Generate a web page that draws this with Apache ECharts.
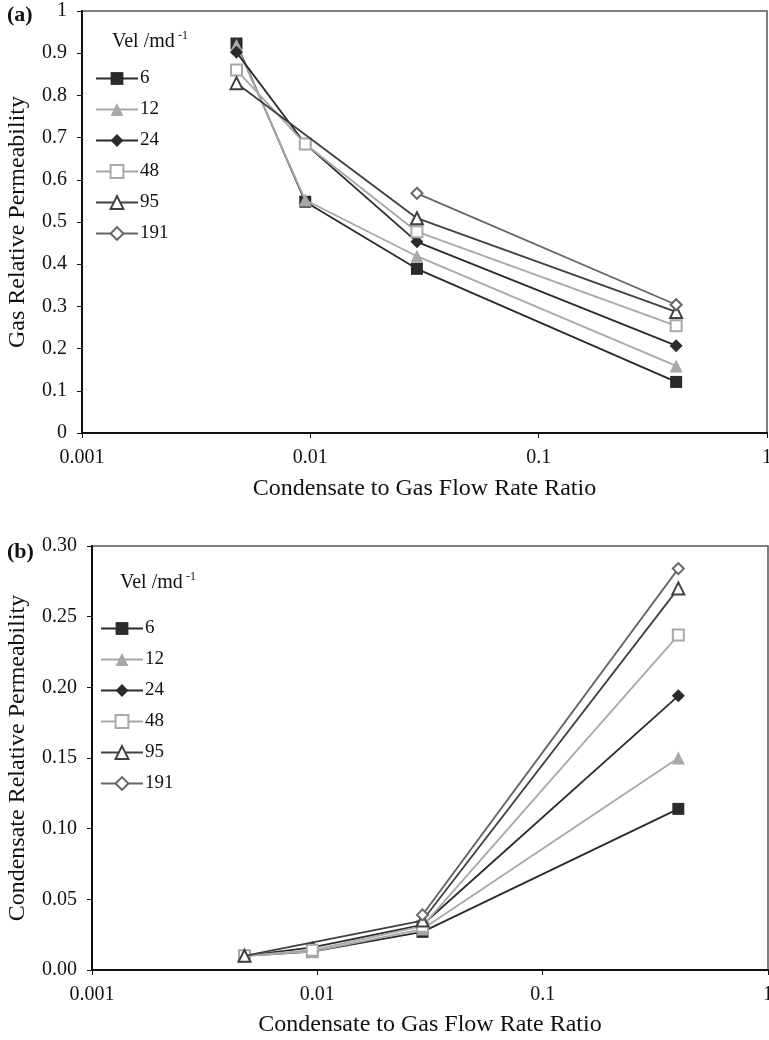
<!DOCTYPE html>
<html>
<head>
<meta charset="utf-8">
<script src="https://cdn.jsdelivr.net/npm/echarts@6/dist/echarts.min.js"></script>
<style>html,body{margin:0;padding:0;background:#fff;}#c{width:769px;height:1040px;}</style>
</head>
<body>
<div id="c"></div>
<script>
// ---- data ----
const velocities = ['6', '12', '24', '48', '95', '191'];
const flowRatio = [0.00475, 0.0095, 0.0293, 0.40];
const gas6   = [0.923, 0.548, 0.389, 0.121];
const gas12  = [0.919, 0.552, 0.419, 0.159];
const gas24  = [0.902, 0.685, 0.453, 0.207];
const gas48  = [0.860, 0.685, 0.477, 0.254];
const gas95  = [0.829, null, 0.509, 0.287];
const gas191 = [null, null, 0.568, 0.304];
const cond6   = [0.010, 0.013, 0.027, 0.114];
const cond12  = [0.010, 0.013, 0.029, 0.150];
const cond24  = [0.010, 0.016, 0.032, 0.194];
const cond48  = [0.010, 0.014, 0.031, 0.237];
const cond95  = [0.010, null, 0.035, 0.270];
const cond191 = [null, null, 0.039, 0.284];
const xTickLabels = {0.001: '0.001', 0.01: '0.01', 0.1: '0.1', 1: '1'};

const gasSets = [gas6, gas12, gas24, gas48, gas95, gas191];
const condSets = [cond6, cond12, cond24, cond48, cond95, cond191];

// ---- styles ----
const styles = [
  {symbol: 'rect', size: 12, color: '#2b2b2b', line: '#2b2b2b'},
  {symbol: 'triangle', size: 13, color: '#a8a8a8', line: '#a8a8a8'},
  {symbol: 'diamond', size: 13, color: '#2b2b2b', line: '#2b2b2b'},
  {symbol: 'emptyRect', size: 11, color: '#a8a8a8', line: '#a8a8a8'},
  {symbol: 'emptyTriangle', size: 12, color: '#404040', line: '#404040'},
  {symbol: 'emptyDiamond', size: 11, color: '#666666', line: '#666666'}
];
const serif = '"Liberation Serif", "DejaVu Serif", serif';

function pairs(ys) {
  const out = [];
  ys.forEach((y, i) => { if (y !== null) out.push([flowRatio[i], y]); });
  return out;
}
function makeSeries(sets, idx) {
  return sets.map((ys, i) => ({
    name: velocities[i],
    type: 'line',
    xAxisIndex: idx, yAxisIndex: idx,
    data: pairs(ys),
    symbol: styles[i].symbol,
    symbolSize: styles[i].size,
    showAllSymbol: true,
    itemStyle: {color: styles[i].color, borderWidth: 1.6},
    lineStyle: {color: styles[i].line, width: 1.8},
    animation: false,
    z: 2 + i
  }));
}

const axisLineStyle = {lineStyle: {color: '#111', width: 2}};
function xAxis(gi, gap) {
  return {
    type: 'log', logBase: 10, min: 0.001, max: 1, gridIndex: gi,
    name: 'Condensate to Gas Flow Rate Ratio', nameLocation: 'middle', nameGap: gap,
    nameTextStyle: {fontFamily: serif, fontSize: 24, color: '#111'},
    axisLine: axisLineStyle,
    axisTick: {show: true, inside: false, length: 5, lineStyle: {color: '#111', width: 1}},
    minorTick: {show: false},
    splitLine: {show: false},
    axisLabel: {fontFamily: serif, fontSize: 20, color: '#111', margin: 15,
      formatter: v => xTickLabels[+v.toPrecision(3)] !== undefined ? xTickLabels[+v.toPrecision(3)] : ''}
  };
}
function legend(left, top) {
  return {data: velocities, orient: 'vertical', left: left, top: top, padding: 0,
    itemWidth: 42, itemHeight: 16, itemGap: 12,
    textStyle: {fontFamily: serif, fontSize: 19, color: '#111', padding: [0, 0, 0, -3]}, selectedMode: false};
}

const chart = echarts.init(document.getElementById('c'), null, {renderer: 'canvas'});
chart.setOption({
  animation: false,
  backgroundColor: '#fff',
  grid: [
    {left: 82, top: 11, width: 685, height: 422, show: true, borderColor: '#555', borderWidth: 1.5,
     backgroundColor: 'transparent', containLabel: false, outerBoundsMode: 'none'},
    {left: 92, top: 546, width: 676, height: 424, show: true, borderColor: '#555', borderWidth: 1.5,
     backgroundColor: 'transparent', containLabel: false, outerBoundsMode: 'none'}
  ],
  xAxis: [xAxis(0, 44), xAxis(1, 43)],
  yAxis: [
    {type: 'value', gridIndex: 0, min: 0, max: 1, interval: 0.1,
     name: 'Gas Relative Permeability', nameLocation: 'middle', nameGap: 52,
     nameTextStyle: {fontFamily: serif, fontSize: 24, color: '#111'},
     axisLine: {show: true, ...axisLineStyle},
     axisTick: {show: true, length: 5, lineStyle: {color: '#111', width: 1}},
     splitLine: {show: false},
     axisLabel: {fontFamily: serif, fontSize: 20, color: '#111', margin: 15,
       formatter: v => String(+v.toFixed(1))}},
    {type: 'value', gridIndex: 1, min: 0, max: 0.3, interval: 0.05,
     name: 'Condensate Relative Permeability', nameLocation: 'middle', nameGap: 62,
     nameTextStyle: {fontFamily: serif, fontSize: 24, color: '#111'},
     axisLine: {show: true, ...axisLineStyle},
     axisTick: {show: true, length: 5, lineStyle: {color: '#111', width: 1}},
     splitLine: {show: false},
     axisLabel: {fontFamily: serif, fontSize: 20, color: '#111', margin: 15,
       formatter: v => v.toFixed(2)}}
  ],
  legend: [legend(95, 69), legend(100, 619)],
  graphic: [
    {type: 'text', left: 7, top: 4, style: {text: '(a)', font: 'bold 22px ' + serif, fill: '#111'}},
    {type: 'text', left: 7, top: 541, style: {text: '(b)', font: 'bold 22px ' + serif, fill: '#111'}},
    {type: 'text', left: 112, top: 32, style: {text: 'Vel /md', font: '20px ' + serif, fill: '#111'}},
    {type: 'text', left: 178, top: 30, style: {text: '-1', font: '12px ' + serif, fill: '#111'}},
    {type: 'text', left: 120, top: 573, style: {text: 'Vel /md', font: '20px ' + serif, fill: '#111'}},
    {type: 'text', left: 186, top: 571, style: {text: '-1', font: '12px ' + serif, fill: '#111'}}
  ],
  series: [...makeSeries(gasSets, 0), ...makeSeries(condSets, 1)]
});
</script>
</body>
</html>
